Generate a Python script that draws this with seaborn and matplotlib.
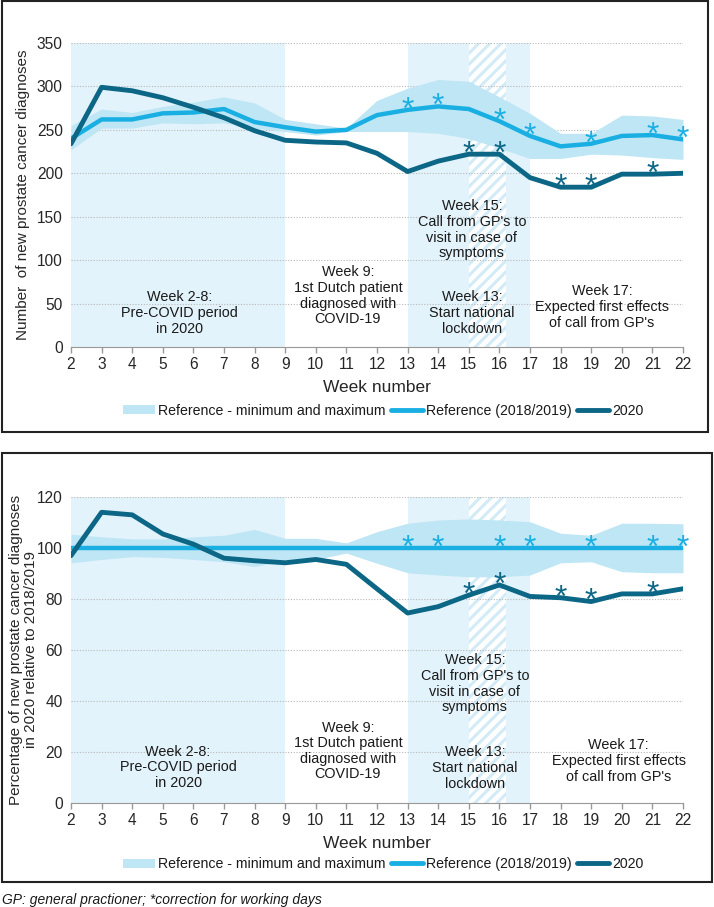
import numpy as np
import matplotlib.pyplot as plt
import seaborn as sns
from matplotlib.patches import Patch, Rectangle
from matplotlib.lines import Line2D

weeks = list(range(2, 23))

# top panel: number of new diagnoses
ref_n = [240, 262, 262, 269, 270, 274, 259, 253, 248, 250, 267, 273, 277, 274, 260, 243, 231, 234, 243, 244, 239]
ref_n_min = [227, 252, 252, 258, 257, 258, 252, 248, 244, 248, 248, 248, 246, 240, 229, 217, 217, 222, 221, 218, 216]
ref_n_max = [255, 274, 270, 277, 282, 288, 281, 262, 257, 252, 284, 298, 308, 306, 288, 269, 246, 246, 267, 266, 262]
cur_n = [234, 299, 295, 287, 276, 264, 249, 238, 236, 235, 223, 202, 214, 222, 222, 195, 184, 184, 199, 199, 200]

# bottom panel: percentage relative to 2018/2019
ref_pct = [100] * 21
ref_pct_min = [94.2, 95.5, 96.6, 96.3, 95.5, 94.6, 92.7, 95.3, 95.5, 98, 94, 90.3, 89.4, 88.7, 88.7, 89.4, 94.2, 94.6, 90.7, 90.3, 90.3]
ref_pct_max = [105.4, 104.4, 103.6, 103.6, 104.4, 105, 107.3, 103.8, 103.8, 102, 106.4, 109.7, 111, 111.4, 111, 110.3, 105.8, 105, 109.7, 109.7, 109.5]
cur_pct = [97, 114, 113, 105.5, 101.5, 96, 95, 94.2, 95.5, 93.6, 84, 74.5, 77, 81.5, 85.5, 81, 80.5, 79, 82, 82, 84]

# weeks with correction for working days
ref_star = [13, 14, 16, 17, 19, 21, 22]
cur_star = [15, 16, 18, 19, 21]

note_texts = ["Week 2-8:\nPre-COVID period\nin 2020",
              "Week 9:\n1st Dutch patient\ndiagnosed with\nCOVID-19",
              "Week 15:\nCall from GP's to\nvisit in case of\nsymptoms",
              "Week 13:\nStart national\nlockdown",
              "Week 17:\nExpected first effects\nof call from GP's"]
note_x_top = [5.55, 11.05, 15.1, 15.1, 19.35]
note_y_top = [39, 59, 135, 39, 46]
note_x_bot = [5.5, 11.05, 15.2, 15.2, 19.9]
note_y_bot = [14, 20.4, 46.7, 13.7, 16.5]

legend_labels = ["Reference - minimum and maximum", "Reference (2018/2019)", "2020"]

REF = "#1aafe2"
DARK = "#0c6685"
BAND = "#bfe6f5"
SHADE = "#e3f3fb"
HATCH = "#d2ebf6"

sns.set_style("white")
plt.rcParams['font.family'] = ['Liberation Sans', 'DejaVu Sans']
plt.rcParams['hatch.linewidth'] = 2.2
plt.rcParams['text.color'] = '#1a1a1a'

fig = plt.figure(figsize=(7.14, 9.07), dpi=100)
W, H = 714, 907


def px_axes(x0, y0, x1, y1):
    return fig.add_axes([x0 / W, 1 - y1 / H, (x1 - x0) / W, (y1 - y0) / H])


def panel(ax, ref, lo, hi, cur, ymax, ystep, ylabel, nx, ny, leg_y):
    ax.axvspan(2, 9, color=SHADE, lw=0, zorder=0)
    ax.axvspan(13, 17, color=SHADE, lw=0, zorder=0)
    ax.axvspan(15, 16.2, facecolor='white', edgecolor=HATCH, hatch='///', lw=0, zorder=0.2)
    ax.fill_between(weeks, lo, hi, color=BAND, lw=0, zorder=1)
    sns.lineplot(x=weeks, y=ref, ax=ax, color=REF, lw=3.2, zorder=3)
    sns.lineplot(x=weeks, y=cur, ax=ax, color=DARK, lw=3.5, zorder=4)

    for w in ref_star:
        ax.annotate('*', (w, ref[weeks.index(w)]), xytext=(0, -0.5), textcoords='offset points',
                    ha='center', va='center', fontsize=23, color=REF, zorder=5)
    for w in cur_star:
        ax.annotate('*', (w, cur[weeks.index(w)]), xytext=(0, -0.5), textcoords='offset points',
                    ha='center', va='center', fontsize=23, color=DARK, zorder=5)

    for s, x, y in zip(note_texts, nx, ny):
        ax.text(x, y, s, ha='center', va='center', fontsize=10.4, linespacing=1.15, zorder=6)

    ax.set_xlim(2, 22)
    ax.set_ylim(0, ymax)
    ax.set_xticks(weeks)
    ax.set_yticks(np.arange(0, ymax + 1, ystep))
    ax.set_axisbelow(True)
    ax.yaxis.grid(True, ls=(0, (1, 1.5)), color='#b8b8b8', lw=0.8)
    ax.xaxis.grid(False)
    for sp in ['left', 'top', 'right']:
        ax.spines[sp].set_visible(False)
    ax.spines['bottom'].set_color('#999999')
    ax.tick_params(axis='x', direction='out', length=4, width=1, color='#999999',
                   labelsize=11.2, pad=3, bottom=True)
    ax.tick_params(axis='y', length=0, labelsize=11.2, pad=6)
    ax.set_xlabel("Week number", fontsize=12.5, labelpad=6)
    ax.set_ylabel(ylabel, fontsize=11, va='center', linespacing=1.05)
    ax.yaxis.set_label_coords(-0.078, 0.5)

    handles = [Patch(facecolor=BAND, edgecolor='none'),
               Line2D([], [], color=REF, lw=3.5),
               Line2D([], [], color=DARK, lw=3.5)]
    ax.legend(handles, legend_labels, loc='center', bbox_to_anchor=(0.51, leg_y), ncol=3,
              frameon=False, fontsize=10.2, handlelength=2.3, handleheight=0.6,
              handletextpad=0.2, columnspacing=0.35)


ax1 = px_axes(71, 43, 683, 347)
panel(ax1, ref_n, ref_n_min, ref_n_max, cur_n, 350, 50,
      "Number  of new prostate cancer diagnoses", note_x_top, note_y_top, -0.21)

ax2 = px_axes(71, 497, 683, 803)
panel(ax2, ref_pct, ref_pct_min, ref_pct_max, cur_pct, 120, 20,
      "Percentage of new prostate cancer diagnoses\nin 2020 relative to 2018/2019",
      note_x_bot, note_y_bot, -0.2)

# frames around each panel
fig.add_artist(Rectangle((2 / W, 1 - 432 / H), 706 / W, 431 / H, transform=fig.transFigure,
                         fill=False, lw=1.5, ec='#222222'))
fig.add_artist(Rectangle((2 / W, 1 - 882 / H), 710 / W, 429 / H, transform=fig.transFigure,
                         fill=False, lw=1.5, ec='#222222'))

fig.text(2 / W, 1 - 900 / H, "GP: general practioner; *correction for working days",
         style='italic', fontsize=10, va='center', ha='left')

plt.savefig("out.png", dpi=100)
